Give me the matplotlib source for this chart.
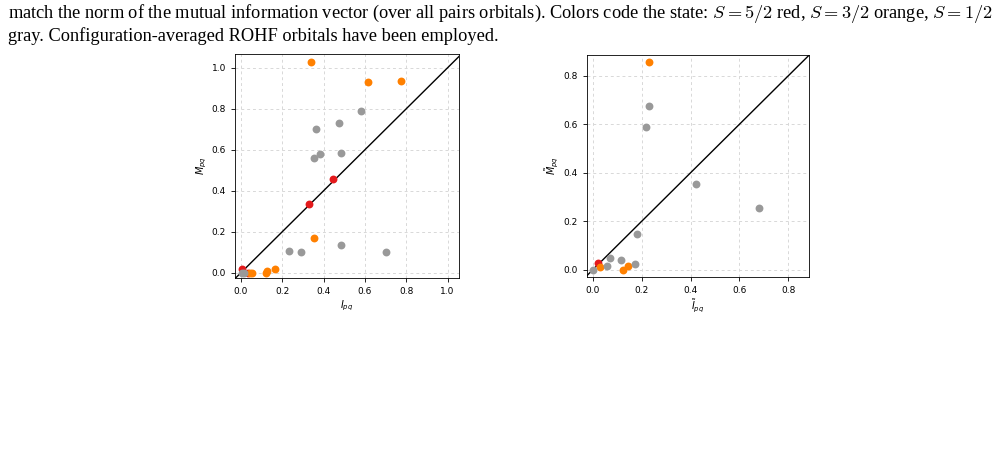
import numpy as np
import matplotlib
matplotlib.use("Agg")
import matplotlib.pyplot as plt

# Panel 1: I_pq vs M_pq
red_I = [0.003, 0.035, 0.327, 0.447]
red_M = [0.018, 0.000, 0.337, 0.457]
orange_I = [0.339, 0.613, 0.773, 0.353, 0.163, 0.123, 0.124, 0.053, 0.045]
orange_M = [1.029, 0.930, 0.937, 0.169, 0.020, 0.000, 0.008, 0.000, 0.000]
gray_I = [0.581, 0.361, 0.474, 0.353, 0.382, 0.485, 0.234, 0.289, 0.484, 0.702, 0.003, 0.016]
gray_M = [0.789, 0.702, 0.730, 0.561, 0.577, 0.582, 0.104, 0.102, 0.135, 0.101, 0.000, 0.000]

# Panel 2: normalised I~_pq vs M~_pq
red_It = [0.023]
red_Mt = [0.027]
orange_It = [0.232, 0.030, 0.123, 0.143]
orange_Mt = [0.858, 0.014, 0.000, 0.018]
gray_It = [0.232, 0.217, 0.421, 0.679, 0.183, 0.071, 0.115, 0.060, 0.173, 0.003]
gray_Mt = [0.675, 0.590, 0.353, 0.255, 0.148, 0.048, 0.041, 0.016, 0.026, 0.000]

C_RED = "#e41a1c"
C_ORANGE = "#ff8000"
C_GRAY = "#999999"

caption = ("match the norm of the mutual information vector (over all pairs orbitals). "
           "Colors code the state: $S = 5/2$ red, $S = 3/2$ orange, $S = 1/2$\n"
           "gray. Configuration-averaged ROHF orbitals have been employed.")


def panel(ax, red, orange, gray, lim_x, lim_y, xticks, yticks, xlabel, ylabel):
    ax.plot([-0.5, 1.5], [-0.5, 1.5], color="black", lw=1.0, zorder=1)
    for (x, y), c in zip([red, orange, gray], [C_RED, C_ORANGE, C_GRAY]):
        ax.scatter(x, y, s=32, color=c, zorder=3, linewidths=0)
    ax.set_xlim(*lim_x)
    ax.set_ylim(*lim_y)
    ax.set_xticks(xticks)
    ax.set_yticks(yticks)
    ax.grid(True, ls=(0, (3, 3)), color="#d8d8d8", lw=0.7)
    ax.set_axisbelow(True)
    ax.tick_params(labelsize=6.5, length=3, width=0.6)
    for s in ax.spines.values():
        s.set_linewidth(0.6)
    ax.set_xlabel(xlabel, fontsize=7, labelpad=2)
    ax.set_ylabel(ylabel, fontsize=7, labelpad=2)


def main():
    plt.rcParams["mathtext.fontset"] = "dejavusans"
    fig = plt.figure(figsize=(10.04, 4.57), dpi=100)
    W, H = 1004, 457

    fig.text(8 / W, 1 - 2 / H, caption, ha="left", va="top", fontsize=13.2,
             family="Liberation Serif", math_fontfamily="cm", linespacing=1.12)

    ax1 = fig.add_axes([235 / W, 1 - 278 / H, 224 / W, 224 / H])
    panel(ax1, (red_I, red_M), (orange_I, orange_M), (gray_I, gray_M),
          (-0.029, 1.055), (-0.026, 1.067),
          np.arange(0, 1.01, 0.2), np.arange(0, 1.01, 0.2),
          "$I_{pq}$", "$M_{pq}$")

    ax2 = fig.add_axes([587 / W, 1 - 277 / H, 222 / W, 222 / H])
    panel(ax2, (red_It, red_Mt), (orange_It, orange_Mt), (gray_It, gray_Mt),
          (-0.023, 0.884), (-0.029, 0.885),
          np.arange(0, 0.81, 0.2), np.arange(0, 0.81, 0.2),
          r"$\tilde{I}_{pq}$", r"$\tilde{M}_{pq}$")

    fig.savefig("out.png", dpi=100)


if __name__ == "__main__":
    main()
